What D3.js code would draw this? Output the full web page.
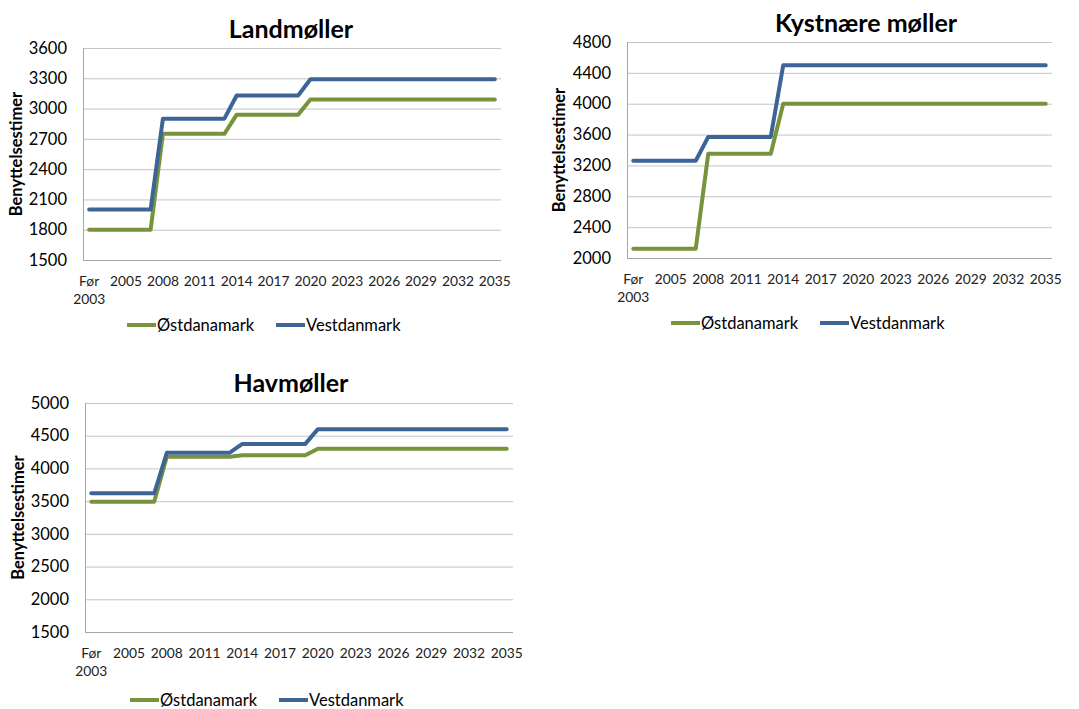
<!DOCTYPE html>
<html>
<head>
<meta charset="utf-8">
<script src="https://cdn.jsdelivr.net/npm/d3@7"></script>
<style>
  body { margin: 0; background: #fff; }
  svg { display: block; font-family: Lato, "Open Sans", sans-serif; }
</style>
</head>
<body>
<svg id="chart" width="1079" height="709"></svg>
<script>
// categories (x axis)
const categories = ["Før 2003", "2003", "2004", "2005", "2006", "2007", "2008", "2009", "2010", "2011",
  "2012", "2013", "2014", "2015", "2016", "2017", "2018", "2019", "2020", "2021", "2022", "2023",
  "2024", "2025", "2026", "2027", "2028", "2029", "2030", "2031", "2032", "2033", "2034", "2035"];
const labelEvery = 3;
const seriesNames = ["Østdanamark", "Vestdanmark"];

// Landmøller
const landOest = [1800, 1800, 1800, 1800, 1800, 1800, 2750, 2750, 2750, 2750, 2750, 2750,
  2940, 2940, 2940, 2940, 2940, 2940, 3090, 3090, 3090, 3090, 3090, 3090, 3090, 3090,
  3090, 3090, 3090, 3090, 3090, 3090, 3090, 3090];
const landVest = [2000, 2000, 2000, 2000, 2000, 2000, 2900, 2900, 2900, 2900, 2900, 2900,
  3130, 3130, 3130, 3130, 3130, 3130, 3290, 3290, 3290, 3290, 3290, 3290, 3290, 3290,
  3290, 3290, 3290, 3290, 3290, 3290, 3290, 3290];
const landTicks = [1500, 1800, 2100, 2400, 2700, 3000, 3300, 3600];

// Kystnære møller
const kystOest = [2120, 2120, 2120, 2120, 2120, 2120, 3350, 3350, 3350, 3350, 3350, 3350,
  4000, 4000, 4000, 4000, 4000, 4000, 4000, 4000, 4000, 4000, 4000, 4000, 4000, 4000,
  4000, 4000, 4000, 4000, 4000, 4000, 4000, 4000];
const kystVest = [3260, 3260, 3260, 3260, 3260, 3260, 3570, 3570, 3570, 3570, 3570, 3570,
  4500, 4500, 4500, 4500, 4500, 4500, 4500, 4500, 4500, 4500, 4500, 4500, 4500, 4500,
  4500, 4500, 4500, 4500, 4500, 4500, 4500, 4500];
const kystTicks = [2000, 2400, 2800, 3200, 3600, 4000, 4400, 4800];

// Havmøller
const havOest = [3490, 3490, 3490, 3490, 3490, 3490, 4180, 4180, 4180, 4180, 4180, 4180,
  4200, 4200, 4200, 4200, 4200, 4200, 4300, 4300, 4300, 4300, 4300, 4300, 4300, 4300,
  4300, 4300, 4300, 4300, 4300, 4300, 4300, 4300];
const havVest = [3620, 3620, 3620, 3620, 3620, 3620, 4240, 4240, 4240, 4240, 4240, 4240,
  4375, 4375, 4375, 4375, 4375, 4375, 4600, 4600, 4600, 4600, 4600, 4600, 4600, 4600,
  4600, 4600, 4600, 4600, 4600, 4600, 4600, 4600];
const havTicks = [1500, 2000, 2500, 3000, 3500, 4000, 4500, 5000];

const colors = ["#77933C", "#3C6496"];
const svg = d3.select("#chart");

function drawPanel(cfg) {
  const g = svg.append("g");
  const x = d3.scalePoint().domain(categories).range([cfg.left, cfg.right]).padding(0.5);
  const y = d3.scaleLinear().domain(d3.extent(cfg.ticks)).range([cfg.bottom, cfg.top]);

  // gridlines
  g.selectAll(".grid").data(cfg.ticks).enter().append("line")
    .attr("x1", cfg.left).attr("x2", cfg.right)
    .attr("y1", d => y(d) + 0.5).attr("y2", d => y(d) + 0.5)
    .attr("stroke", d => d === cfg.ticks[0] ? "#a6a6a6" : "#c4c4c4")
    .attr("stroke-width", 1);

  // left axis line
  g.append("line")
    .attr("x1", cfg.left + 0.5).attr("x2", cfg.left + 0.5)
    .attr("y1", cfg.top).attr("y2", cfg.bottom + 0.5)
    .attr("stroke", "#a6a6a6");

  // y tick labels
  const yAxis = d3.axisLeft(y).tickValues(cfg.ticks).tickSize(0).tickPadding(0).tickFormat(d3.format("d"));
  const ya = g.append("g").attr("transform", `translate(${cfg.left - 16},0)`).call(yAxis);
  ya.select(".domain").remove();
  ya.selectAll("text").attr("font-size", 16.5).attr("fill", "#000").attr("font-family", "Lato, sans-serif");

  // x tick labels
  const shown = categories.filter((c, i) => i % labelEvery === 0);
  const xl = g.selectAll(".xl").data(shown).enter().append("text")
    .attr("x", d => x(d))
    .attr("y", cfg.bottom + 26)
    .attr("text-anchor", "middle")
    .attr("font-size", 13.8)
    .attr("fill", "#222");
  xl.each(function (d) {
    const parts = d.split(" ");
    const t = d3.select(this);
    parts.forEach((p, i) => {
      t.append("tspan").attr("x", x(d)).attr("dy", i === 0 ? 0 : 18).text(p);
    });
  });

  // y axis title
  g.append("text")
    .attr("transform", `translate(${cfg.ylabelX},${(cfg.top + cfg.bottom) / 2}) rotate(-90)`)
    .attr("text-anchor", "middle")
    .attr("dominant-baseline", "central")
    .attr("font-size", 16.5)
    .attr("font-weight", "bold")
    .text("Benyttelsestimer");

  // chart title
  g.append("text")
    .attr("x", cfg.titleX).attr("y", cfg.titleY)
    .attr("text-anchor", "middle")
    .attr("font-size", 25)
    .attr("font-weight", "bold")
    .text(cfg.title);

  // lines
  const line = d3.line().x((d, i) => x(categories[i])).y(d => y(d));
  cfg.series.forEach((s, k) => {
    g.append("path")
      .datum(s)
      .attr("d", line)
      .attr("fill", "none")
      .attr("stroke", colors[k])
      .attr("stroke-width", 4)
      .attr("stroke-linejoin", "round")
      .attr("stroke-linecap", "round");
  });

  // legend
  const leg = g.append("g").attr("transform", `translate(${cfg.legendX},${cfg.legendY})`);
  seriesNames.forEach((name, k) => {
    const lx = k * 149;
    leg.append("line")
      .attr("x1", lx).attr("x2", lx + 29)
      .attr("y1", 0).attr("y2", 0)
      .attr("stroke", colors[k]).attr("stroke-width", 4);
    leg.append("text")
      .attr("x", lx + 30).attr("y", 0)
      .attr("dominant-baseline", "central")
      .attr("font-size", 16.5)
      .text(name);
  });
}

drawPanel({
  title: "Landmøller", titleX: 291, titleY: 38,
  left: 83, right: 501, top: 48, bottom: 260,
  ticks: landTicks, series: [landOest, landVest],
  ylabelX: 16, legendX: 127, legendY: 325
});

drawPanel({
  title: "Kystnære møller", titleX: 866, titleY: 32,
  left: 627, right: 1052, top: 42, bottom: 258,
  ticks: kystTicks, series: [kystOest, kystVest],
  ylabelX: 559, legendX: 671, legendY: 323
});

drawPanel({
  title: "Havmøller", titleX: 291, titleY: 392,
  left: 85, right: 513, top: 403, bottom: 632,
  ticks: havTicks, series: [havOest, havVest],
  ylabelX: 18, legendX: 130, legendY: 700
});
</script>
</body>
</html>
